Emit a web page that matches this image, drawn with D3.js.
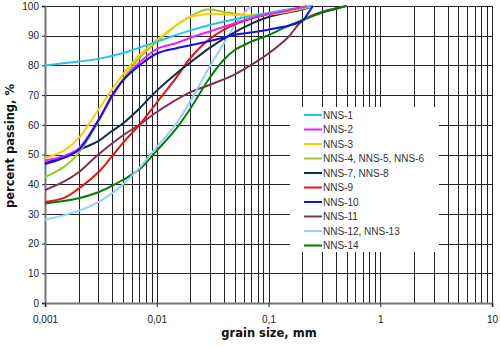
<!DOCTYPE html>
<html><head><meta charset="utf-8">
<script src="https://cdn.jsdelivr.net/npm/d3@7"></script>
<style>html,body{margin:0;padding:0;background:#fff;}svg{display:block;}</style>
</head><body>
<svg id="chart" width="500" height="346"></svg>
<script>
// ---- data ----
const seriesNames = ["NNS-1","NNS-2","NNS-3","NNS-4, NNS-5, NNS-6","NNS-7, NNS-8","NNS-9","NNS-10","NNS-11","NNS-12, NNS-13","NNS-14"];
const seriesColors = ["#22c4f0","#ee22ee","#ffcc00","#99cc22","#102a50","#ee1111","#1111ee","#803050","#99ccff","#008000"];
const nns1 = [[0.001,80],[0.002,81.3],[0.003,82.2],[0.005,84.2],[0.007,86],[0.01,88],[0.02,91.8],[0.04,94.8],[0.08,97],[0.15,98.8],[0.25,100]];
const nns2 = [[0.001,48],[0.0015,49.5],[0.002,52],[0.003,61.5],[0.004,69.5],[0.005,75],[0.007,81],[0.01,85.5],[0.015,87.5],[0.02,89.3],[0.04,93],[0.08,96.5],[0.15,98.5],[0.22,100]];
const nns3 = [[0.001,48.8],[0.0015,51.5],[0.002,55.5],[0.003,65],[0.004,72],[0.005,77],[0.007,83.5],[0.01,88.5],[0.015,93.6],[0.02,96.3],[0.03,97.3],[0.06,97],[0.12,97.5],[0.25,100]];
const nns4 = [[0.001,42.4],[0.0015,46],[0.002,50.5],[0.003,61],[0.004,70],[0.005,75.5],[0.007,82.5],[0.01,88],[0.015,93.5],[0.02,96.5],[0.028,98.8],[0.04,98],[0.06,97],[0.1,97.5],[0.25,100]];
const nns7 = [[0.001,47],[0.0015,49.5],[0.002,51.5],[0.003,54.5],[0.004,58],[0.005,60.5],[0.007,65.5],[0.01,71.5],[0.015,77.3],[0.02,81],[0.03,86],[0.05,91.2],[0.07,94],[0.1,96.3],[0.2,98.8],[0.25,100]];
const nns9 = [[0.001,34],[0.0015,35.5],[0.002,38.5],[0.003,44],[0.004,49.5],[0.005,54],[0.007,60],[0.01,67.5],[0.015,76],[0.02,82.5],[0.03,89],[0.05,93.8],[0.1,97.3],[0.25,100]];
const nns10 = [[0.001,46.8],[0.0015,49],[0.002,51.5],[0.003,61.5],[0.004,70],[0.005,75],[0.007,80],[0.01,84],[0.015,85.8],[0.02,86.8],[0.03,88.2],[0.05,90.3],[0.1,92],[0.2,95],[0.23,98],[0.25,100]];
const nns11 = [[0.001,38],[0.0015,41],[0.002,44],[0.003,50],[0.005,56.5],[0.007,60],[0.01,64.3],[0.02,71],[0.03,73.5],[0.05,77],[0.08,81.5],[0.1,84],[0.15,89.5],[0.2,95],[0.3,98],[0.5,100]];
const nns12 = [[0.001,28],[0.002,31],[0.003,34],[0.004,37],[0.005,40],[0.007,45.5],[0.01,52.6],[0.015,60.5],[0.02,68],[0.03,79.8],[0.04,87.5],[0.05,93.5],[0.06,97.5],[0.07,100]];
const nns14 = [[0.001,33.5],[0.002,35.3],[0.003,37.3],[0.004,39.5],[0.005,41.5],[0.007,45],[0.01,51.3],[0.015,58.8],[0.02,65.5],[0.03,76],[0.04,82],[0.05,85.2],[0.07,88],[0.1,90.2],[0.15,93.3],[0.2,95.2],[0.3,97.7],[0.4,99],[0.5,100]];
const seriesData = [nns1,nns2,nns3,nns4,nns7,nns9,nns10,nns11,nns12,nns14];
const xTickValues = [0.001,0.01,0.1,1,10];
const xTickLabels = ["0,001","0,01","0,1","1","10"];
const yTickValues = [0,10,20,30,40,50,60,70,80,90,100];
const xTitle = "grain size, mm";
const yTitle = "percent passing, %";

// ---- drawing ----
const svg = d3.select("#chart");
const x = d3.scaleLog().domain([0.001,10]).range([45,492]);
const y = d3.scaleLinear().domain([0,100]).range([303,6]);

// minor vertical grid values
const vGrid = [];
[0.001,0.01,0.1,1].forEach(d => { for (let k=1;k<10;k++) vGrid.push(d*k); });
vGrid.push(10);

const grid = svg.append("g").attr("shape-rendering","crispEdges");
grid.selectAll("line.v").data(vGrid).join("line")
  .attr("x1", d => Math.round(x(d))+0.5).attr("x2", d => Math.round(x(d))+0.5)
  .attr("y1", y(100)).attr("y2", y(0))
  .attr("stroke","#222").attr("stroke-width",1);
grid.selectAll("line.h").data(yTickValues).join("line")
  .attr("x1", x(0.001)).attr("x2", x(10))
  .attr("y1", d => Math.round(y(d))+0.5).attr("y2", d => Math.round(y(d))+0.5)
  .attr("stroke","#222").attr("stroke-width",1);

// axes
const yAxis = svg.append("g").attr("transform",`translate(${x(0.001)},0)`)
  .call(d3.axisLeft(y).tickValues(yTickValues).tickSize(3).tickPadding(3));
const xAxis = svg.append("g").attr("transform",`translate(0,${y(0)})`)
  .call(d3.axisBottom(x).tickValues(xTickValues).tickFormat((d,i)=>xTickLabels[i]).tickSize(4).tickPadding(9));
[yAxis,xAxis].forEach(a => {
  a.select(".domain").attr("stroke","#777").attr("stroke-width",2);
  a.selectAll(".tick line").attr("stroke","#222");
  a.selectAll("text").attr("font-family","'Liberation Sans', Arial, sans-serif").attr("font-size",10).attr("fill","#222");
});

// legend background
const legX = 290, legY = 107, legW = 149, legH = 145;
svg.append("rect").attr("x",legX).attr("y",legY).attr("width",legW).attr("height",legH).attr("fill","#fff");

// curves
const line = d3.line().x(d => x(d[0])).y(d => y(d[1])).curve(d3.curveCatmullRom.alpha(0.5));
const drawOrder = [7,9,8,5,4,3,2,0,1,6];
drawOrder.forEach(i => {
  svg.append("path").datum(seriesData[i]).attr("d", line)
    .attr("fill","none").attr("stroke", seriesColors[i]).attr("stroke-width",2).attr("stroke-linejoin","round");
});

// legend items
const leg = svg.append("g");
seriesNames.forEach((name,i) => {
  const yy = 115 + i*14.5;
  leg.append("line").attr("x1",304).attr("x2",322).attr("y1",yy).attr("y2",yy)
    .attr("stroke",seriesColors[i]).attr("stroke-width",2);
  leg.append("text").attr("x",323).attr("y",yy).attr("dy","0.35em")
    .attr("font-family","'Liberation Sans', Arial, sans-serif").attr("font-size",10).attr("fill","#333").text(name);
});

// titles
svg.append("text").attr("x",269).attr("y",337).attr("text-anchor","middle")
  .attr("font-family","'DejaVu Sans', sans-serif").attr("font-weight","bold").attr("font-size",11.5).attr("fill","#111").text(xTitle);
svg.append("text").attr("transform","translate(14,146) rotate(-90)").attr("text-anchor","middle")
  .attr("font-family","'DejaVu Sans', sans-serif").attr("font-weight","bold").attr("font-size",11.5).attr("fill","#111").text(yTitle);
</script>
</body></html>
